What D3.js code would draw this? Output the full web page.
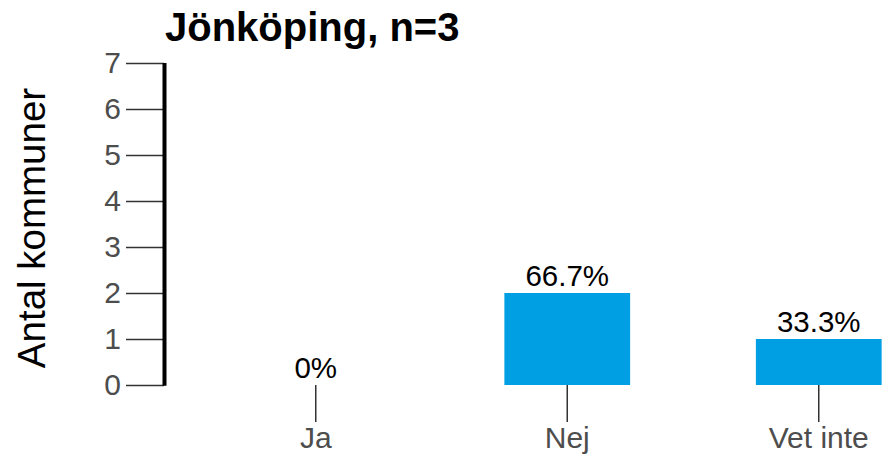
<!DOCTYPE html>
<html>
<head>
<meta charset="utf-8">
<script src="https://cdn.jsdelivr.net/npm/d3@7"></script>
<style>
  body { margin: 0; background: #fff; }
  text { font-family: "Liberation Sans", Arial, sans-serif; }
</style>
</head>
<body>
<div id="chart"></div>
<script>
// data
const categories = ["Ja", "Nej", "Vet inte"];
const counts = [0, 2, 1];
const percentLabels = ["0%", "66.7%", "33.3%"];
const yTicks = [0, 1, 2, 3, 4, 5, 6, 7];
const chartTitle = "Jönköping, n=3";
const yTitle = "Antal kommuner";

const width = 883, height = 464;

const svg = d3.select("#chart").append("svg")
  .attr("width", width)
  .attr("height", height);

const y = d3.scaleLinear().domain([0, 7]).range([385, 63]);
const x = d3.scaleBand().domain(categories)
  .range([190, 944.5])
  .paddingInner(0.5)
  .paddingOuter(0.25);

// bars
svg.selectAll("rect.bar")
  .data(counts)
  .enter().append("rect")
  .attr("class", "bar")
  .attr("x", (d, i) => x(categories[i]))
  .attr("width", x.bandwidth())
  .attr("y", d => y(d))
  .attr("height", d => y(0) - y(d))
  .attr("fill", "#009FE3");

// percent labels
svg.selectAll("text.pct")
  .data(counts)
  .enter().append("text")
  .attr("class", "pct")
  .attr("x", (d, i) => x(categories[i]) + x.bandwidth() / 2)
  .attr("y", d => y(d) - 7)
  .attr("text-anchor", "middle")
  .attr("font-size", 29.5)
  .attr("fill", "#000")
  .text((d, i) => percentLabels[i]);

// y axis
const yAxis = svg.append("g")
  .attr("transform", "translate(164,0)")
  .call(d3.axisLeft(y).tickValues(yTicks).tickSize(38).tickPadding(5).tickFormat(d3.format("d")));
yAxis.select(".domain").remove();
yAxis.selectAll(".tick line").attr("stroke", "#333").attr("stroke-width", 1.5);
yAxis.selectAll(".tick text")
  .attr("font-size", 30)
  .attr("fill", "#4D4D4D")
  .attr("font-family", "Liberation Sans, Arial, sans-serif");
svg.append("line")
  .attr("x1", 164.5).attr("x2", 164.5)
  .attr("y1", y(7)).attr("y2", y(0) + 0.75)
  .attr("stroke", "#000").attr("stroke-width", 4);

// x axis (ticks + labels only)
const xAxis = svg.append("g")
  .attr("transform", "translate(0," + y(0) + ")")
  .call(d3.axisBottom(x).tickSize(37).tickPadding(5));
xAxis.select(".domain").remove();
xAxis.selectAll(".tick line").attr("stroke", "#333").attr("stroke-width", 1.5);
xAxis.selectAll(".tick text")
  .attr("font-size", 30)
  .attr("fill", "#4D4D4D")
  .attr("font-family", "Liberation Sans, Arial, sans-serif");

// y title
svg.append("text")
  .attr("transform", "translate(45,228) rotate(-90)")
  .attr("text-anchor", "middle")
  .attr("font-size", 38.5)
  .attr("fill", "#000")
  .text(yTitle);

// title
svg.append("text")
  .attr("x", 165)
  .attr("y", 41)
  .attr("font-size", 40)
  .attr("font-weight", "bold")
  .attr("fill", "#000")
  .text(chartTitle);
</script>
</body>
</html>
